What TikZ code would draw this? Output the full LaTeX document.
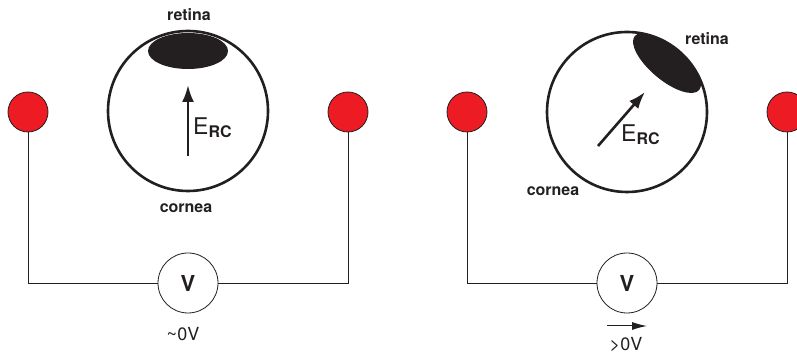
\documentclass[tikz,border=0pt]{standalone}
\usepackage{fontspec}
\setmainfont{TeX Gyre Heros}
\usetikzlibrary{arrows.meta}
\definecolor{elecred}{RGB}{237,28,36}
\definecolor{ink}{RGB}{35,31,32}
\tikzset{
  eye/.style={circle, draw=ink, line width=2.6pt, minimum size=160pt, inner sep=0pt},
  electrode/.style={circle, draw=ink, fill=elecred, line width=0.8pt, minimum size=40pt, inner sep=0pt},
  meter/.style={circle, draw=ink, line width=0.8pt, minimum size=60pt, inner sep=0pt,
    text=ink, font=\fontsize{22}{22}\selectfont\bfseries},
  wire/.style={draw=ink, line width=0.8pt},
  tag/.style={text=ink, inner sep=0pt, font=\fontsize{16}{16}\selectfont\bfseries},
  volt/.style={text=ink, inner sep=0pt, font=\fontsize{18}{18}\selectfont},
  field/.style={ink, line width=2.6pt, -{Latex[length=17pt,width=12pt]}},
}
\newcommand{\fieldlabel}{\fontsize{23}{23}\selectfont E\raisebox{-3pt}{\fontsize{16}{16}\selectfont\bfseries RC}}
\begin{document}
\begin{tikzpicture}[x=1pt, y=1pt]
    \useasboundingbox (0, 0) rectangle (797, 355);
    % left: eye looking up
    \node[eye] (eyeL) at (188, 244) {};
    \begin{scope}
        \clip (188, 244) circle (80);
        \fill[ink] (188, 304) ellipse (40 and 18);
    \end{scope}
    \coordinate (fL0) at (188, 199);
    \coordinate (fL1) at (188, 270);
    \draw[field] (fL0) -- (fL1);
    \node[text=ink, inner sep=0pt, anchor=base west] (ercL) at (193, 220) {\fieldlabel};
    \node[tag] (retL) at (189, 340) {retina};
    \node[tag] (corL) at (186, 147) {cornea};
    \node[electrode] (eL1) at (28, 243) {};
    \node[electrode] (eL2) at (348, 243) {};
    \node[meter] (mL) at (188, 72) {V};
    \draw[wire] (eL1.south) |- (mL.west);
    \draw[wire] (eL2.south) |- (mL.east);
    \node[volt] (vL) at (183, 21) {\textasciitilde 0V};
    % right: eye turned
    \node[eye] (eyeR) at (627, 243) {};
    \begin{scope}
        \clip (627, 243) circle (80);
        \fill[ink, rotate around={-40:(667, 292)}] (667, 292) ellipse (42 and 17);
    \end{scope}
    \coordinate (fR0) at (598, 209);
    \coordinate (fR1) at (645, 263);
    \draw[field] (fR0) -- (fR1);
    \node[text=ink, inner sep=0pt, anchor=base west] (ercR) at (621, 213) {\fieldlabel};
    \node[tag] (retR) at (707, 316) {retina};
    \node[tag] (corR) at (553, 164) {cornea};
    \node[electrode] (eR1) at (467, 243) {};
    \node[electrode] (eR2) at (787, 243) {};
    \node[meter] (mR) at (627, 72) {V};
    \draw[wire] (eR1.south) |- (mR.west);
    \draw[wire] (eR2.south) |- (mR.east);
    \coordinate (dR0) at (607, 29);
    \coordinate (dR1) at (647, 29);
    \draw[ink, line width=1pt, -{Latex[length=15pt,width=8pt]}] (dR0) -- (dR1);
    \node[volt] (vR) at (626, 10.5) {>0V};
\end{tikzpicture}
\end{document}
